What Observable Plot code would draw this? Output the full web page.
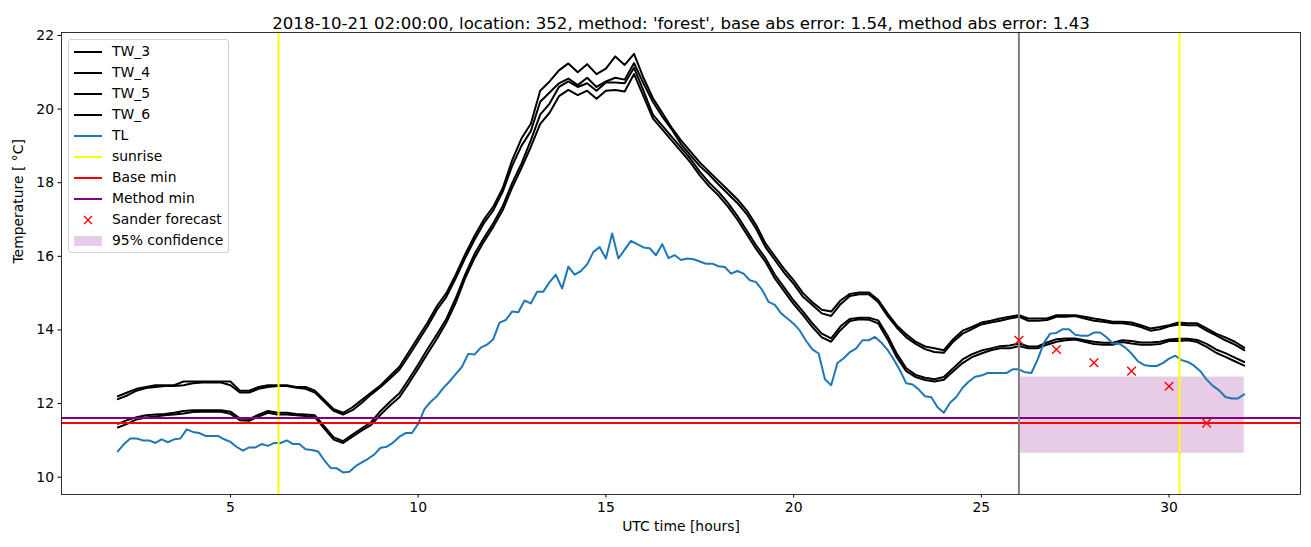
<!DOCTYPE html>
<html>
<head>
<meta charset="utf-8">
<script src="https://cdn.jsdelivr.net/npm/d3@7"></script>
<script src="https://cdn.jsdelivr.net/npm/@observablehq/plot@0.6"></script>
<style>
  body { margin: 0; background: #fff; font-family: "DejaVu Sans", sans-serif; }
  #wrap { position: relative; width: 1311px; height: 547px; }
  #legend { position: absolute; left: 68px; top: 39px; width: 161px; height: 214px;
    border: 1px solid #d0d0d0; border-radius: 3px; background: rgba(255,255,255,0.8);
    box-sizing: border-box; font-size: 13.9px; color: #000; }
  .row { position: absolute; left: 0; height: 21px; width: 100%; }
  .row .h { position: absolute; left: 5px; width: 28px; top: 9px; }
  .row .t { position: absolute; left: 43px; top: 1px; white-space: nowrap; }
</style>
</head>
<body>
<div id="wrap"><div id="chart"></div><div id="legend"></div></div>
<script>
// ---- data ----
const tlStart = 2, tlStep = 1/6;           // TL sampled every 10 minutes, 02:00 .. 32:00
const twStart = 2, twStep = 1/4;           // TW series sampled every 15 minutes

const TL = [
 10.7,10.9,11.05,11.05,11.0,11.0,
 10.93,11.03,10.95,11.03,11.05,11.3,
 11.23,11.2,11.12,11.12,11.12,11.03,
 10.96,10.82,10.72,10.81,10.81,10.9,
 10.85,10.93,10.93,11.0,10.9,10.9,
 10.76,10.74,10.7,10.46,10.25,10.24,
 10.13,10.15,10.3,10.4,10.5,10.62,
 10.8,10.83,10.94,11.1,11.2,11.2,
 11.45,11.85,12.05,12.2,12.42,12.6,
 12.8,13.0,13.35,13.33,13.52,13.6,
 13.75,14.2,14.27,14.5,14.48,14.8,
 14.72,15.04,15.04,15.3,15.5,15.13,
 15.72,15.5,15.6,15.78,16.12,16.25,
 15.94,16.62,15.94,16.18,16.42,16.33,
 16.24,16.22,16.03,16.33,15.95,16.03,
 15.9,15.94,15.92,15.86,15.8,15.8,
 15.73,15.71,15.53,15.6,15.53,15.35,
 15.3,15.08,14.76,14.68,14.45,14.31,
 14.17,13.98,13.7,13.47,13.36,12.66,
 12.5,13.1,13.23,13.4,13.5,13.72,
 13.72,13.81,13.66,13.46,13.2,12.9,
 12.55,12.52,12.38,12.2,12.17,11.9,
 11.75,12.02,12.18,12.43,12.6,12.73,
 12.76,12.83,12.83,12.83,12.83,12.93,
 12.93,12.85,12.83,13.2,13.65,13.9,
 13.92,14.02,14.02,13.87,13.84,13.84,
 13.93,13.93,13.8,13.63,13.63,13.52,
 13.36,13.15,13.05,13.02,13.02,13.1,
 13.22,13.3,13.18,13.13,13.03,12.88,
 12.65,12.48,12.36,12.18,12.14,12.14,
 12.25
];

const TW_3 = [
 12.2,12.3,12.4,12.45, 12.5,12.5,12.5,12.6, 12.6,12.6,12.6,12.6, 12.6,12.35,12.35,12.45,
 12.5,12.5,12.5,12.45, 12.45,12.35,12.1,11.85, 11.75,11.9,12.1,12.3, 12.5,12.75,13.0,13.4,
 13.8,14.2,14.65,15.0, 15.5,16.05,16.55,17.0, 17.35,17.85,18.6,19.2, 19.6,20.5,20.75,21.05,
 21.24,21.0,21.22,20.95, 21.1,21.43,21.2,21.5, 20.85,20.3,19.9,19.5, 19.15,18.85,18.55,18.3,
 18.05,17.8,17.55,17.25, 16.85,16.35,16.0,15.65, 15.35,15.0,14.75,14.55, 14.5,14.8,14.98,15.02,
 15.02,14.82,14.45,14.12, 13.88,13.68,13.55,13.5, 13.45,13.75,13.98,14.08, 14.2,14.25,14.31,14.36,
 14.4,14.31,14.31,14.31, 14.4,14.4,14.4,14.36, 14.31,14.27,14.22,14.22, 14.2,14.13,14.04,14.08,
 14.13,14.2,14.18,14.18, 14.04,13.9,13.8,13.68, 13.52
];
const TW_4 = [
 12.12,12.22,12.35,12.42, 12.45,12.48,12.48,12.5, 12.55,12.57,12.57,12.57, 12.5,12.3,12.3,12.4,
 12.45,12.48,12.48,12.43, 12.4,12.3,12.05,11.8, 11.7,11.82,12.02,12.25, 12.45,12.68,12.92,13.3,
 13.7,14.1,14.55,14.9, 15.4,15.95,16.45,16.9, 17.25,17.75,18.45,19.0, 19.4,20.2,20.45,20.7,
 20.83,20.65,20.85,20.6, 20.75,20.85,20.8,21.25, 20.7,20.2,19.8,19.45, 19.05,18.75,18.45,18.22,
 17.95,17.7,17.45,17.15, 16.75,16.25,15.9,15.55, 15.25,14.9,14.68,14.45, 14.38,14.7,14.92,14.97,
 14.97,14.76,14.38,14.06, 13.8,13.62,13.48,13.4, 13.38,13.68,13.9,14.02, 14.15,14.2,14.25,14.31,
 14.36,14.25,14.25,14.27, 14.36,14.36,14.38,14.31, 14.25,14.22,14.18,14.18, 14.15,14.08,13.98,14.02,
 14.1,14.15,14.13,14.13, 13.98,13.85,13.72,13.6, 13.45
];
const TW_5 = [
 11.45,11.55,11.63,11.68, 11.7,11.72,11.75,11.8, 11.82,11.82,11.82,11.82, 11.78,11.6,11.58,11.7,
 11.8,11.75,11.75,11.72, 11.7,11.68,11.38,11.08, 10.98,11.16,11.33,11.5, 11.8,12.05,12.28,12.66,
 13.06,13.48,13.88,14.3, 14.86,15.5,16.06,16.5, 16.9,17.36,17.98,18.52, 19.15,19.85,20.15,20.6,
 20.75,20.6,20.7,20.5, 20.72,20.72,20.7,21.12, 20.5,19.85,19.55,19.25, 18.95,18.65,18.3,18.0,
 17.75,17.45,17.1,16.7, 16.3,15.95,15.5,15.15, 14.8,14.5,14.18,13.9, 13.77,14.1,14.3,14.33,
 14.33,14.26,13.85,13.35, 12.96,12.78,12.7,12.66, 12.72,12.96,13.2,13.34, 13.44,13.5,13.56,13.58,
 13.63,13.55,13.55,13.66, 13.75,13.77,13.77,13.72, 13.68,13.65,13.65,13.72, 13.7,13.66,13.66,13.68,
 13.74,13.76,13.76,13.73, 13.62,13.47,13.37,13.25, 13.13
];
const TW_6 = [
 11.35,11.45,11.57,11.62, 11.65,11.68,11.7,11.73, 11.77,11.78,11.78,11.78, 11.72,11.55,11.53,11.65,
 11.75,11.7,11.7,11.68, 11.66,11.63,11.32,11.02, 10.93,11.1,11.27,11.42, 11.7,11.95,12.17,12.55,
 12.95,13.36,13.76,14.2, 14.74,15.4,15.95,16.4, 16.8,17.25,17.86,18.4, 18.97,19.6,19.9,20.35,
 20.52,20.38,20.5,20.28, 20.5,20.52,20.48,20.95, 20.35,19.75,19.45,19.15, 18.85,18.55,18.2,17.9,
 17.65,17.35,17.0,16.6, 16.2,15.85,15.4,15.05, 14.7,14.4,14.08,13.8, 13.68,14.0,14.24,14.29,
 14.28,14.18,13.75,13.25, 12.88,12.72,12.64,12.6, 12.65,12.88,13.1,13.26, 13.36,13.45,13.5,13.5,
 13.56,13.5,13.5,13.6, 13.68,13.72,13.74,13.68, 13.62,13.6,13.6,13.67, 13.63,13.6,13.6,13.62,
 13.7,13.7,13.72,13.67, 13.54,13.38,13.27,13.15, 13.03
];

const sunrise = [6.28, 30.28];
const forecastStart = 26;
const baseMin = 11.47;
const methodMin = 11.61;
const sanderHours = [26, 27, 28, 29, 30, 31];
const sanderValues = [13.72, 13.47, 13.11, 12.88, 12.47, 11.47];
const confidence = {x1: 26, x2: 32, lo: 10.65, hi: 12.72};

const xTicks = [5, 10, 15, 20, 25, 30];
const yTicks = [10, 12, 14, 16, 18, 20, 22];

const titleText = "2018-10-21 02:00:00, location: 352, method: 'forest', base abs error: 1.54, method abs error: 1.43";
const xLabel = "UTC time [hours]";
const yLabel = "Temperature [ °C]";

// ---- tables ----
const tlRows = TL.map((v, i) => ({t: tlStart + i * tlStep, v}));
const twSeries = {TW_3, TW_4, TW_5, TW_6};
const twRows = Object.entries(twSeries).flatMap(([k, arr]) =>
  arr.map((v, i) => ({s: k, t: twStart + i * twStep, v})));
const sanderRows = sanderHours.map((t, i) => ({t, v: sanderValues[i]}));

const font = "DejaVu Sans, sans-serif";
const lw = 2;

const chart = Plot.plot({
  width: 1311,
  height: 547,
  marginLeft: 61,
  marginRight: 11,
  marginTop: 32,
  marginBottom: 53,
  style: {fontFamily: font, fontSize: "13.9px", background: "white", color: "black"},
  x: {domain: [0.5, 33.5]},
  y: {domain: [9.53, 22.08]},
  marks: [
    Plot.rect([confidence], {x1: "x1", x2: "x2", y1: "lo", y2: "hi", fill: "purple", fillOpacity: 0.2}),
    Plot.line(twRows, {x: "t", y: "v", z: "s", stroke: "black", strokeWidth: lw}),
    Plot.line(tlRows, {x: "t", y: "v", stroke: "#1f77b4", strokeWidth: lw}),
    Plot.ruleX(sunrise, {stroke: "yellow", strokeWidth: lw}),
    Plot.ruleY([baseMin], {stroke: "red", strokeWidth: lw}),
    Plot.ruleY([methodMin], {stroke: "purple", strokeWidth: lw}),
    Plot.ruleX([forecastStart], {stroke: "gray", strokeWidth: lw}),
    Plot.dot(sanderRows, {x: "t", y: "v", symbol: "times", stroke: "red", r: 4, strokeWidth: 1.4}),
    Plot.frame({stroke: "black", strokeWidth: 0.8}),
    Plot.axisX({ticks: xTicks, tickSize: 3.5, tickPadding: 4, label: null, fontSize: 13.9}),
    Plot.axisY({ticks: yTicks, tickSize: 3.5, tickPadding: 4, label: null, fontSize: 13.9}),
    Plot.text([titleText], {frameAnchor: "top", dy: -15, fontSize: 16.6, fill: "black"}),
    Plot.text([xLabel], {frameAnchor: "bottom", dy: 36, fontSize: 13.9, fill: "black"}),
    Plot.text([yLabel], {frameAnchor: "left", dx: -43, rotate: -90, fontSize: 13.9, fill: "black"})
  ]
});
document.getElementById("chart").appendChild(chart);

// ---- legend ----
const legendItems = [
  {label: "TW_3", kind: "line", color: "black"},
  {label: "TW_4", kind: "line", color: "black"},
  {label: "TW_5", kind: "line", color: "black"},
  {label: "TW_6", kind: "line", color: "black"},
  {label: "TL", kind: "line", color: "#1f77b4"},
  {label: "sunrise", kind: "line", color: "yellow"},
  {label: "Base min", kind: "line", color: "red"},
  {label: "Method min", kind: "line", color: "purple"},
  {label: "Sander forecast", kind: "x", color: "red"},
  {label: "95% confidence", kind: "patch", color: "rgba(128,0,128,0.2)"}
];
const leg = document.getElementById("legend");
legendItems.forEach((it, i) => {
  const row = document.createElement("div");
  row.className = "row";
  row.style.top = (2 + i * 21) + "px";
  let handle;
  if (it.kind === "line") {
    handle = `<div class="h" style="height:2px;background:${it.color};"></div>`;
  } else if (it.kind === "x") {
    handle = `<svg style="position:absolute;left:14px;top:5px" width="10" height="10"><path d="M1,1L9,9M9,1L1,9" stroke="${it.color}" stroke-width="1.4"/></svg>`;
  } else {
    handle = `<div class="h" style="top:5px;height:10px;background:${it.color};"></div>`;
  }
  row.innerHTML = handle + `<span class="t">${it.label}</span>`;
  leg.appendChild(row);
});
</script>
</body>
</html>
